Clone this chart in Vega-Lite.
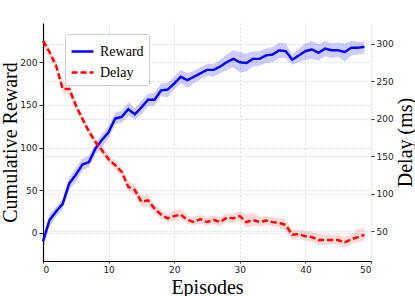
{
  "$schema": "https://vega.github.io/schema/vega-lite/v6.json",
  "width": 328,
  "height": 238,
  "autosize": {"type": "none"},
  "padding": {"left": 43, "top": 23, "right": 44, "bottom": 35},
  "background": "white",
  "config": {
    "view": {"stroke": null},
    "axis": {
      "labelFont": "DejaVu Sans",
      "labelFontSize": 9,
      "labelColor": "#222222",
      "titleFont": "Liberation Serif",
      "titleFontSize": 20,
      "titleFontWeight": "normal",
      "titleColor": "black",
      "gridColor": "#d4d4d4",
      "gridDash": [2, 2],
      "gridWidth": 0.8,
      "tickColor": "#333333",
      "domainColor": "black",
      "domainWidth": 1.2
    },
    "legend": {
      "orient": "none",
      "legendX": 22,
      "legendY": 11,
      "fillColor": "white",
      "strokeColor": "#cccccc",
      "cornerRadius": 3,
      "padding": 5,
      "labelFont": "Liberation Serif",
      "labelFontSize": 14,
      "labelColor": "black",
      "symbolType": "stroke",
      "symbolSize": 480,
      "symbolStrokeWidth": 2.5,
      "rowPadding": 1,
      "labelOffset": 5
    }
  },
  "data": {
    "values": [
      {"e":0,"s":"Reward","v":-10,"lo":-18,"hi":-2},
      {"e":1,"s":"Reward","v":15,"lo":8,"hi":22},
      {"e":2,"s":"Reward","v":25,"lo":19,"hi":31},
      {"e":3,"s":"Reward","v":34,"lo":28,"hi":40},
      {"e":4,"s":"Reward","v":58,"lo":50,"hi":65},
      {"e":5,"s":"Reward","v":68,"lo":60,"hi":76},
      {"e":6,"s":"Reward","v":80,"lo":73,"hi":87},
      {"e":7,"s":"Reward","v":83,"lo":77,"hi":90},
      {"e":8,"s":"Reward","v":99,"lo":92,"hi":105},
      {"e":9,"s":"Reward","v":109,"lo":101,"hi":116},
      {"e":10,"s":"Reward","v":118,"lo":111,"hi":125},
      {"e":11,"s":"Reward","v":134,"lo":127,"hi":141},
      {"e":12,"s":"Reward","v":136,"lo":129,"hi":143},
      {"e":13,"s":"Reward","v":145,"lo":137,"hi":153},
      {"e":14,"s":"Reward","v":139,"lo":133,"hi":146},
      {"e":15,"s":"Reward","v":147,"lo":139,"hi":155},
      {"e":16,"s":"Reward","v":156,"lo":148,"hi":163},
      {"e":17,"s":"Reward","v":156,"lo":149,"hi":164},
      {"e":18,"s":"Reward","v":167,"lo":160,"hi":175},
      {"e":19,"s":"Reward","v":168,"lo":159,"hi":176},
      {"e":20,"s":"Reward","v":175,"lo":168,"hi":183},
      {"e":21,"s":"Reward","v":183,"lo":175,"hi":191},
      {"e":22,"s":"Reward","v":179,"lo":170,"hi":187},
      {"e":23,"s":"Reward","v":183,"lo":175,"hi":190},
      {"e":24,"s":"Reward","v":187,"lo":180,"hi":194},
      {"e":25,"s":"Reward","v":191,"lo":184,"hi":198},
      {"e":26,"s":"Reward","v":191,"lo":183,"hi":198},
      {"e":27,"s":"Reward","v":195,"lo":187,"hi":203},
      {"e":28,"s":"Reward","v":200,"lo":191,"hi":209},
      {"e":29,"s":"Reward","v":204,"lo":194,"hi":214},
      {"e":30,"s":"Reward","v":200,"lo":188,"hi":212},
      {"e":31,"s":"Reward","v":199,"lo":189,"hi":210},
      {"e":32,"s":"Reward","v":204,"lo":195,"hi":213},
      {"e":33,"s":"Reward","v":204,"lo":196,"hi":213},
      {"e":34,"s":"Reward","v":208,"lo":199,"hi":216},
      {"e":35,"s":"Reward","v":209,"lo":200,"hi":218},
      {"e":36,"s":"Reward","v":214,"lo":205,"hi":223},
      {"e":37,"s":"Reward","v":213,"lo":205,"hi":222},
      {"e":38,"s":"Reward","v":203,"lo":197,"hi":209},
      {"e":39,"s":"Reward","v":208,"lo":200,"hi":216},
      {"e":40,"s":"Reward","v":213,"lo":203,"hi":222},
      {"e":41,"s":"Reward","v":215,"lo":204,"hi":225},
      {"e":42,"s":"Reward","v":211,"lo":202,"hi":221},
      {"e":43,"s":"Reward","v":216,"lo":207,"hi":225},
      {"e":44,"s":"Reward","v":214,"lo":205,"hi":222},
      {"e":45,"s":"Reward","v":214,"lo":206,"hi":223},
      {"e":46,"s":"Reward","v":212,"lo":201,"hi":222},
      {"e":47,"s":"Reward","v":217,"lo":208,"hi":225},
      {"e":48,"s":"Reward","v":217,"lo":209,"hi":224},
      {"e":49,"s":"Reward","v":218,"lo":210,"hi":224},
      {"e":0,"s":"Delay","v":304,"lo":297,"hi":311},
      {"e":1,"s":"Delay","v":289,"lo":282,"hi":296},
      {"e":2,"s":"Delay","v":271,"lo":265,"hi":277},
      {"e":3,"s":"Delay","v":240,"lo":234,"hi":247},
      {"e":4,"s":"Delay","v":240,"lo":232,"hi":249},
      {"e":5,"s":"Delay","v":218,"lo":212,"hi":224},
      {"e":6,"s":"Delay","v":200,"lo":195,"hi":206},
      {"e":7,"s":"Delay","v":183,"lo":178,"hi":189},
      {"e":8,"s":"Delay","v":169,"lo":164,"hi":175},
      {"e":9,"s":"Delay","v":158,"lo":152,"hi":164},
      {"e":10,"s":"Delay","v":146,"lo":141,"hi":152},
      {"e":11,"s":"Delay","v":138,"lo":132,"hi":144},
      {"e":12,"s":"Delay","v":129,"lo":123,"hi":135},
      {"e":13,"s":"Delay","v":109,"lo":103,"hi":116},
      {"e":14,"s":"Delay","v":105,"lo":98,"hi":112},
      {"e":15,"s":"Delay","v":89,"lo":82,"hi":97},
      {"e":16,"s":"Delay","v":91,"lo":83,"hi":99},
      {"e":17,"s":"Delay","v":80,"lo":74,"hi":86},
      {"e":18,"s":"Delay","v":72,"lo":66,"hi":78},
      {"e":19,"s":"Delay","v":67,"lo":62,"hi":73},
      {"e":20,"s":"Delay","v":70,"lo":64,"hi":77},
      {"e":21,"s":"Delay","v":72,"lo":66,"hi":79},
      {"e":22,"s":"Delay","v":65,"lo":60,"hi":71},
      {"e":23,"s":"Delay","v":62,"lo":57,"hi":68},
      {"e":24,"s":"Delay","v":66,"lo":60,"hi":72},
      {"e":25,"s":"Delay","v":62,"lo":57,"hi":68},
      {"e":26,"s":"Delay","v":65,"lo":59,"hi":71},
      {"e":27,"s":"Delay","v":62,"lo":56,"hi":68},
      {"e":28,"s":"Delay","v":68,"lo":62,"hi":74},
      {"e":29,"s":"Delay","v":67,"lo":61,"hi":73},
      {"e":30,"s":"Delay","v":70,"lo":64,"hi":76},
      {"e":31,"s":"Delay","v":62,"lo":54,"hi":72},
      {"e":32,"s":"Delay","v":65,"lo":57,"hi":74},
      {"e":33,"s":"Delay","v":62,"lo":56,"hi":69},
      {"e":34,"s":"Delay","v":64,"lo":58,"hi":70},
      {"e":35,"s":"Delay","v":62,"lo":56,"hi":68},
      {"e":36,"s":"Delay","v":61,"lo":55,"hi":67},
      {"e":37,"s":"Delay","v":58,"lo":50,"hi":66},
      {"e":38,"s":"Delay","v":45,"lo":38,"hi":52},
      {"e":39,"s":"Delay","v":46,"lo":40,"hi":52},
      {"e":40,"s":"Delay","v":43,"lo":37,"hi":50},
      {"e":41,"s":"Delay","v":42,"lo":36,"hi":49},
      {"e":42,"s":"Delay","v":38,"lo":31,"hi":46},
      {"e":43,"s":"Delay","v":38,"lo":32,"hi":45},
      {"e":44,"s":"Delay","v":38,"lo":32,"hi":45},
      {"e":45,"s":"Delay","v":38,"lo":32,"hi":45},
      {"e":46,"s":"Delay","v":35,"lo":28,"hi":42},
      {"e":47,"s":"Delay","v":39,"lo":33,"hi":46},
      {"e":48,"s":"Delay","v":42,"lo":35,"hi":52},
      {"e":49,"s":"Delay","v":45,"lo":37,"hi":55}
    ]
  },
  "encoding": {
    "x": {
      "field": "e",
      "type": "quantitative",
      "scale": {"domain": [0, 50], "nice": false, "zero": false},
      "axis": {
        "title": "Episodes",
        "values": [0, 10, 20, 30, 40, 50],
        "grid": true,
        "tickSize": 2,
        "labelPadding": 2,
        "titlePadding": 3
      }
    }
  },
  "layer": [
    {
      "transform": [{"filter": "datum.s === 'Reward'"}],
      "layer": [
        {
          "mark": {"type": "area", "color": "#0000ff", "opacity": 0.2},
          "encoding": {
            "y": {
              "field": "lo",
              "type": "quantitative",
              "scale": {"domain": [-33, 246], "nice": false, "zero": false},
              "axis": {
                "orient": "left",
                "title": "Cumulative Reward",
                "values": [0, 50, 100, 150, 200],
                "grid": true,
                "tickSize": 4,
                "labelPadding": 2,
                "titlePadding": -1
              }
            },
            "y2": {"field": "hi"}
          }
        },
        {
          "mark": {"type": "line", "strokeWidth": 2.4},
          "encoding": {
            "y": {
              "field": "v",
              "type": "quantitative",
              "scale": {"domain": [-33, 246], "nice": false, "zero": false},
              "axis": {
                "orient": "left",
                "title": "Cumulative Reward",
                "values": [0, 50, 100, 150, 200],
                "grid": true,
                "tickSize": 4,
                "labelPadding": 2,
                "titlePadding": -1
              }
            },
            "color": {
              "field": "s",
              "type": "nominal",
              "scale": {"domain": ["Reward", "Delay"], "range": ["#0000ff", "#ff0000"]},
              "legend": {"title": null}
            },
            "strokeDash": {
              "field": "s",
              "type": "nominal",
              "scale": {"domain": ["Reward", "Delay"], "range": [[1, 0], [6, 3]]},
              "legend": {"title": null}
            }
          }
        }
      ]
    },
    {
      "transform": [{"filter": "datum.s === 'Delay'"}],
      "layer": [
        {
          "mark": {"type": "area", "color": "#ff0000", "opacity": 0.15},
          "encoding": {
            "y": {
              "field": "lo",
              "type": "quantitative",
              "scale": {"domain": [10, 328], "nice": false, "zero": false},
              "axis": {
                "orient": "right",
                "title": "Delay (ms)",
                "titleAngle": -90,
                "titleBaseline": "bottom",
                "values": [50, 100, 150, 200, 250, 300],
                "grid": true,
                "domain": false,
                "tickSize": 3,
                "labelPadding": 2,
                "titlePadding": 22
              }
            },
            "y2": {"field": "hi"}
          }
        },
        {
          "mark": {"type": "line", "strokeWidth": 2.4},
          "encoding": {
            "y": {
              "field": "v",
              "type": "quantitative",
              "scale": {"domain": [10, 328], "nice": false, "zero": false},
              "axis": {
                "orient": "right",
                "title": "Delay (ms)",
                "titleAngle": -90,
                "titleBaseline": "bottom",
                "values": [50, 100, 150, 200, 250, 300],
                "grid": true,
                "domain": false,
                "tickSize": 3,
                "labelPadding": 2,
                "titlePadding": 22
              }
            },
            "color": {
              "field": "s",
              "type": "nominal",
              "scale": {"domain": ["Reward", "Delay"], "range": ["#0000ff", "#ff0000"]},
              "legend": {"title": null}
            },
            "strokeDash": {
              "field": "s",
              "type": "nominal",
              "scale": {"domain": ["Reward", "Delay"], "range": [[1, 0], [6, 3]]},
              "legend": {"title": null}
            }
          }
        }
      ]
    }
  ],
  "resolve": {"scale": {"y": "independent"}}
}
